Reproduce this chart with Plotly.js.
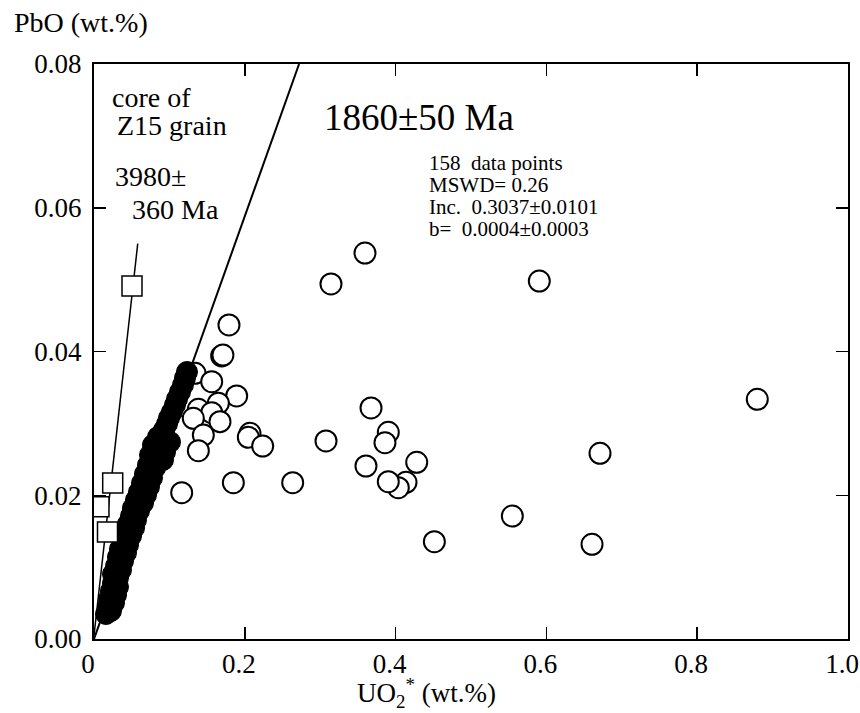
<!DOCTYPE html>
<html>
<head>
<meta charset="utf-8">
<script src="https://cdn.plot.ly/plotly-3.0.1.min.js"></script>
<style>html,body{margin:0;padding:0;background:#fff;}#chart{width:860px;height:713px;}</style>
</head>
<body>
<div id="chart"></div>
<script>
// Fitted (filled) points, UO2* and PbO in wt.%
const filledUO2 = [0.1233,0.1207,0.1180,0.1141,0.1101,0.1074,0.1034,0.0995,0.0968,0.0928,
  0.0849,0.0942,0.1008,0.0782,0.0875,0.0942,0.0743,0.0836,0.0915,
  0.0716,0.0809,0.0676,0.0769,0.0637,0.0729,0.0597,0.0690,0.0557,0.0650,
  0.0517,0.0597,0.0491,0.0557,0.0451,0.0531,0.0424,0.0491,
  0.0385,0.0451,0.0345,0.0424,0.0318,0.0385,0.0292,0.0358,0.0252,0.0318,
  0.0252,0.0318,0.0225,0.0292,0.0199,0.0265,0.0186,0.0225,0.0159];
const filledPbO = [0.03715,0.03632,0.03534,0.03437,0.03339,0.03256,0.03158,0.03075,0.02992,0.02908,
  0.02811,0.02769,0.02741,0.02699,0.02658,0.02602,0.02560,0.02518,0.02491,
  0.02421,0.02379,0.02296,0.02240,0.02171,0.02115,0.02045,0.02004,0.01934,0.01892,
  0.01823,0.01781,0.01711,0.01656,0.01600,0.01544,0.01489,0.01433,
  0.01364,0.01308,0.01252,0.01197,0.01141,0.01085,0.01016,0.00960,0.00904,0.00849,
  0.00779,0.00724,0.00668,0.00612,0.00557,0.00501,0.00445,0.00390,0.00348];

// Excluded (open) points
const openUO2 = [0.3594,0.3143,0.5906,0.8797,0.6711,0.5548,0.4514,0.6605,0.4280,0.4138,
  0.4036,0.3903,0.3903,0.3859,0.3674,0.3077,0.3607,0.1790,0.1693,0.1710,
  0.1340,0.1561,0.1892,0.1649,0.1384,0.1561,0.1317,0.1671,0.1450,0.1384,
  0.2069,0.2047,0.2237,0.1848,0.2635,0.1163];
const openPbO = [0.0537,0.0494,0.0498,0.03335,0.02584,0.01711,0.01354,0.01317,0.02459,0.0218,
  0.02105,0.02189,0.02876,0.02731,0.03214,0.02755,0.02407,0.0437,0.03938,0.03950,
  0.03697,0.0358,0.03381,0.0328,0.03196,0.03149,0.03071,0.03024,0.02838,0.0262,
  0.02862,0.02807,0.02685,0.02175,0.02175,0.02036];

// Core of Z15 grain (squares)
const coreUO2 = [0.0504,0.0066,0.0248,0.0179];
const corePbO = [0.0491,0.0184,0.0217,0.0149];

// Isochron lines (end points)
const iso1860UO2 = [0.0, 0.272];
const iso1860PbO = [0.0, 0.080];
const iso3980UO2 = [0.0, 0.058];
const iso3980PbO = [0.0005, 0.055];

const xTickVals = [0, 0.2, 0.4, 0.6, 0.8, 1.0];
const xTickText = ['0', '0.2', '0.4', '0.6', '0.8', '1.0'];
const yTickVals = [0, 0.02, 0.04, 0.06, 0.08];
const yTickText = ['0.00', '0.02', '0.04', '0.06', '0.08'];

const FONT = "'Liberation Serif', 'Times New Roman', Times, serif";

const traces = [
  {x: iso1860UO2, y: iso1860PbO, mode: 'lines', line: {color: '#000', width: 2}, hoverinfo: 'skip'},
  {x: iso3980UO2, y: iso3980PbO, mode: 'lines', line: {color: '#000', width: 1.5}, hoverinfo: 'skip'},
  {x: openUO2, y: openPbO, mode: 'markers',
   marker: {symbol: 'circle', size: 21, color: '#fff', line: {color: '#000', width: 2}}},
  {x: filledUO2, y: filledPbO, mode: 'markers',
   marker: {symbol: 'circle', size: 21, color: '#000', line: {color: '#000', width: 1}}},
  {x: coreUO2, y: corePbO, mode: 'markers',
   marker: {symbol: 'square', size: 20, color: '#fff', line: {color: '#000', width: 1.5}}}
];

const ann = (x, y, text, size, extra) => Object.assign({
  x: x, y: y, xref: 'x', yref: 'y', text: text, showarrow: false,
  xanchor: 'left', yanchor: 'middle', font: {family: FONT, size: size, color: '#000'}
}, extra || {});

const layout = {
  width: 860, height: 713,
  margin: {l: 94, r: 12, t: 64, b: 74},
  paper_bgcolor: '#fff', plot_bgcolor: '#fff',
  showlegend: false,
  font: {family: FONT, color: '#000'},
  xaxis: {
    range: [0, 1.0], tickvals: xTickVals, ticktext: xTickText,
    showgrid: false, zeroline: false, showline: true, linecolor: '#000', linewidth: 2,
    mirror: 'ticks', ticks: 'inside', ticklen: 12, tickwidth: 1.5, tickcolor: '#000',
    ticklabelshift: -6, ticklabeloverflow: 'allow',
    tickfont: {family: FONT, size: 27, color: '#000'}
  },
  yaxis: {
    range: [0, 0.08], tickvals: yTickVals, ticktext: yTickText,
    showgrid: false, zeroline: false, showline: true, linecolor: '#000', linewidth: 2,
    mirror: 'ticks', ticks: 'inside', ticklen: 12, tickwidth: 1.5, tickcolor: '#000',
    ticklabelstandoff: 5,
    tickfont: {family: FONT, size: 27, color: '#000'}
  },
  annotations: [
    {x: -0.1088, y: 1.073, xref: 'paper', yref: 'paper', text: 'PbO (wt.%)', showarrow: false,
     xanchor: 'left', yanchor: 'middle', font: {family: FONT, size: 28, color: '#000'}},
    {x: 0.3462, y: -0.094, xref: 'paper', yref: 'paper', text: 'UO<sub>2</sub><sup>*</sup> (wt.%)', showarrow: false,
     xanchor: 'left', yanchor: 'middle', font: {family: FONT, size: 27, color: '#000'}},
    ann(0.0212, 0.0754, 'core of', 28),
    ann(0.0279, 0.0715, 'Z15 grain', 28),
    ann(0.0252, 0.0643, '3980±', 28),
    ann(0.0477, 0.0598, '360 Ma', 28),
    ann(0.3024, 0.0725, '1860±50 Ma', 37),
    ann(0.4416, 0.06623, '158  data points', 21),
    ann(0.4416, 0.06317, 'MSWD= 0.26', 21),
    ann(0.4416, 0.06011, 'Inc.  0.3037±0.0101', 21),
    ann(0.4416, 0.05705, 'b=  0.0004±0.0003', 21)
  ]
};

Plotly.newPlot('chart', traces, layout, {displayModeBar: false, staticPlot: true});
</script>
</body>
</html>
